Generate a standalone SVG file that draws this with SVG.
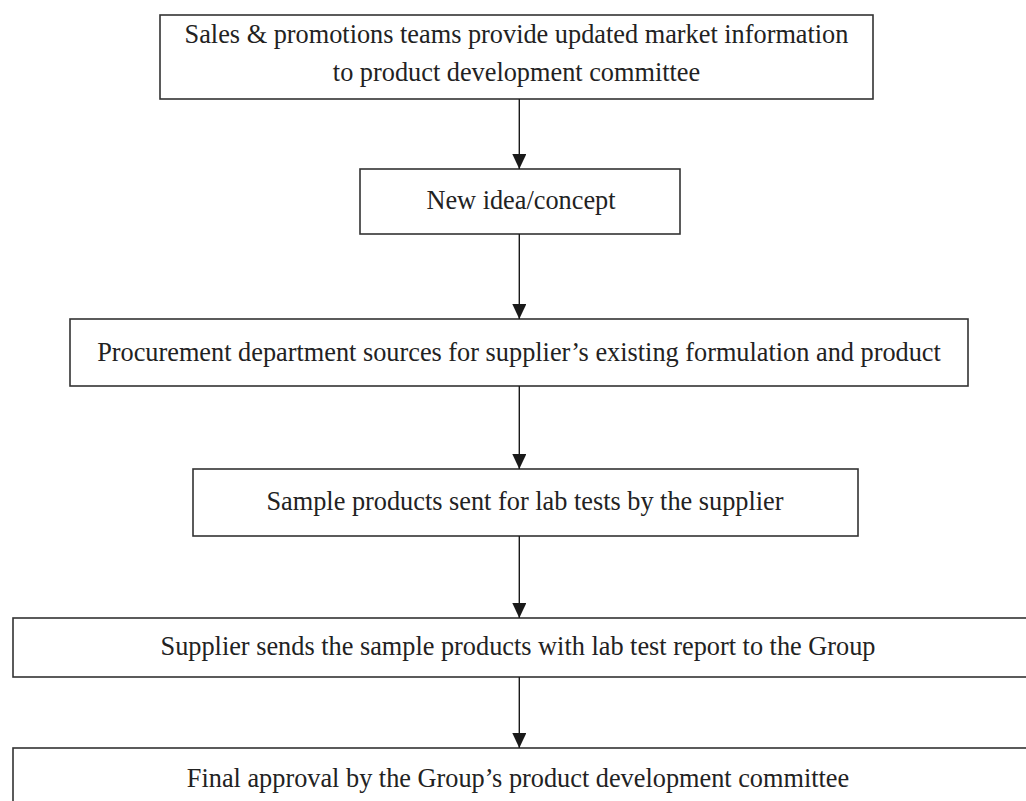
<svg xmlns="http://www.w3.org/2000/svg" width="1026" height="801" viewBox="0 0 1026 801">
<defs>
<marker id="ah" markerWidth="16" markerHeight="14" refX="15" refY="7" orient="auto" markerUnits="userSpaceOnUse" viewBox="0 0 16 14">
<path d="M0,0 L15,7 L0,14 Z" fill="#1a1a1a"/>
</marker>
</defs>
<style>
.box{fill:#fff;stroke:#333;stroke-width:1.6}
.t{font-family:"Liberation Serif","Times New Roman",serif;font-size:26.3px;fill:#222;text-anchor:middle}
.c{stroke:#1a1a1a;stroke-width:1.4;fill:none}
</style>
<rect width="1026" height="801" fill="#fff"/>
<g id="n1"><rect class="box" x="160" y="15" width="713" height="84"/>
<text class="t" x="516.5" y="43">Sales &amp; promotions teams provide updated market information</text>
<text class="t" x="516.5" y="81">to product development committee</text></g>
<g id="n2"><rect class="box" x="360" y="169" width="320" height="65"/>
<text class="t" x="521" y="209">New idea/concept</text></g>
<g id="n3"><rect class="box" x="70" y="319" width="898" height="67"/>
<text class="t" x="519" y="361">Procurement department sources for supplier’s existing formulation and product</text></g>
<g id="n4"><rect class="box" x="193" y="469" width="665" height="67"/>
<text class="t" x="525" y="510">Sample products sent for lab tests by the supplier</text></g>
<g id="n5"><rect class="box" x="13" y="618" width="1030" height="59"/>
<text class="t" x="518" y="655">Supplier sends the sample products with lab test report to the Group</text></g>
<g id="n6"><rect class="box" x="13" y="748" width="1030" height="80"/>
<text class="t" x="518" y="787">Final approval by the Group’s product development committee</text></g>
<g id="connectors">
<line class="c" x1="519.3" y1="99" x2="519.3" y2="169" marker-end="url(#ah)"/>
<line class="c" x1="519.3" y1="234" x2="519.3" y2="319" marker-end="url(#ah)"/>
<line class="c" x1="519.3" y1="386" x2="519.3" y2="469" marker-end="url(#ah)"/>
<line class="c" x1="519.3" y1="536" x2="519.3" y2="618" marker-end="url(#ah)"/>
<line class="c" x1="519.3" y1="677" x2="519.3" y2="748" marker-end="url(#ah)"/>
</g>
</svg>
